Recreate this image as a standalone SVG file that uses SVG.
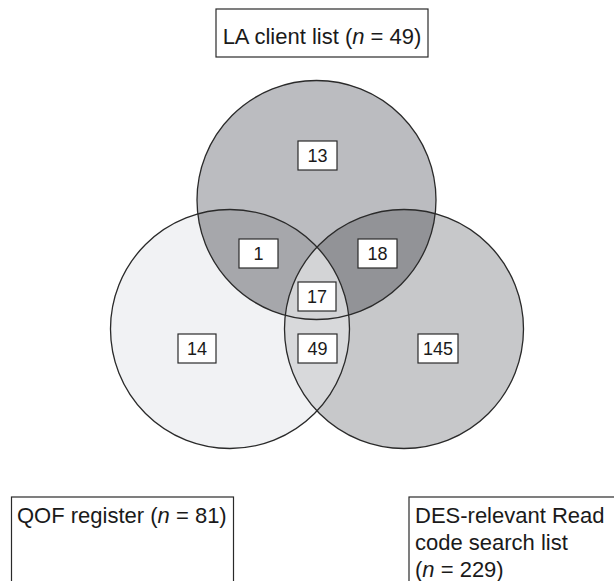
<svg xmlns="http://www.w3.org/2000/svg" width="614" height="581" viewBox="0 0 614 581">
<style>
.lbl{font-family:"Liberation Sans",Arial,sans-serif;font-size:22px;fill:#1a1a1a}
.num{font-family:"Liberation Sans",Arial,sans-serif;font-size:18px;fill:#1a1a1a;text-anchor:middle}
.box{fill:#ffffff;stroke:#2a2a2a;stroke-width:1.2}
.ring{fill:none;stroke:#2a2a2a;stroke-width:1.3}
</style>
<defs>
<circle id="cT" cx="316.5" cy="200" r="119.5"/>
<circle id="cL" cx="230" cy="329" r="119.5"/>
<circle id="cR" cx="404" cy="329" r="119.5"/>
<clipPath id="clipL"><use href="#cL"/></clipPath>
<clipPath id="clipR"><use href="#cR"/></clipPath>
<clipPath id="clipT"><use href="#cT"/></clipPath>
</defs>
<rect width="614" height="581" fill="#ffffff"/>
<g id="venn">
<use href="#cL" fill="#f1f2f4"/>
<use href="#cR" fill="#c7c8ca"/>
<use href="#cT" fill="#bbbcc0"/>
<use href="#cT" fill="#a6a7ab" clip-path="url(#clipL)"/>
<use href="#cT" fill="#929397" clip-path="url(#clipR)"/>
<use href="#cL" fill="#d8d9db" clip-path="url(#clipR)"/>
<g clip-path="url(#clipR)"><use href="#cT" fill="#d3d4d6" clip-path="url(#clipL)"/></g>
<use href="#cL" class="ring"/>
<use href="#cR" class="ring"/>
<use href="#cT" class="ring"/>
</g>
<g id="n13"><rect class="box" x="298" y="141" width="39" height="29"/><text class="num" x="317.5" y="162">13</text></g>
<g id="n1"><rect class="box" x="239" y="239" width="39" height="29"/><text class="num" x="258.5" y="260">1</text></g>
<g id="n18"><rect class="box" x="358" y="239" width="39" height="29"/><text class="num" x="377.5" y="260">18</text></g>
<g id="n17"><rect class="box" x="298" y="282" width="38" height="29"/><text class="num" x="317" y="303">17</text></g>
<g id="n14"><rect class="box" x="178" y="334" width="38" height="29"/><text class="num" x="197" y="355">14</text></g>
<g id="n49"><rect class="box" x="298" y="334" width="39" height="29"/><text class="num" x="317.5" y="355">49</text></g>
<g id="n145"><rect class="box" x="418" y="334" width="40" height="29"/><text class="num" x="438" y="355">145</text></g>
<g id="la"><rect class="box" x="216" y="9" width="212" height="48"/><text class="lbl" x="322" y="44" text-anchor="middle">LA client list (<tspan font-style="italic">n</tspan> = 49)</text></g>
<g id="qof"><rect class="box" x="11.5" y="497" width="222" height="100"/><text class="lbl" x="17" y="523">QOF register (<tspan font-style="italic">n</tspan> = 81)</text></g>
<g id="des"><rect class="box" x="409" y="497" width="220" height="100"/><text class="lbl" x="415" y="523">DES-relevant Read</text><text class="lbl" x="415" y="550">code search list</text><text class="lbl" x="415" y="577">(<tspan font-style="italic">n</tspan> = 229)</text></g>
<g id="connectors"/>
</svg>
